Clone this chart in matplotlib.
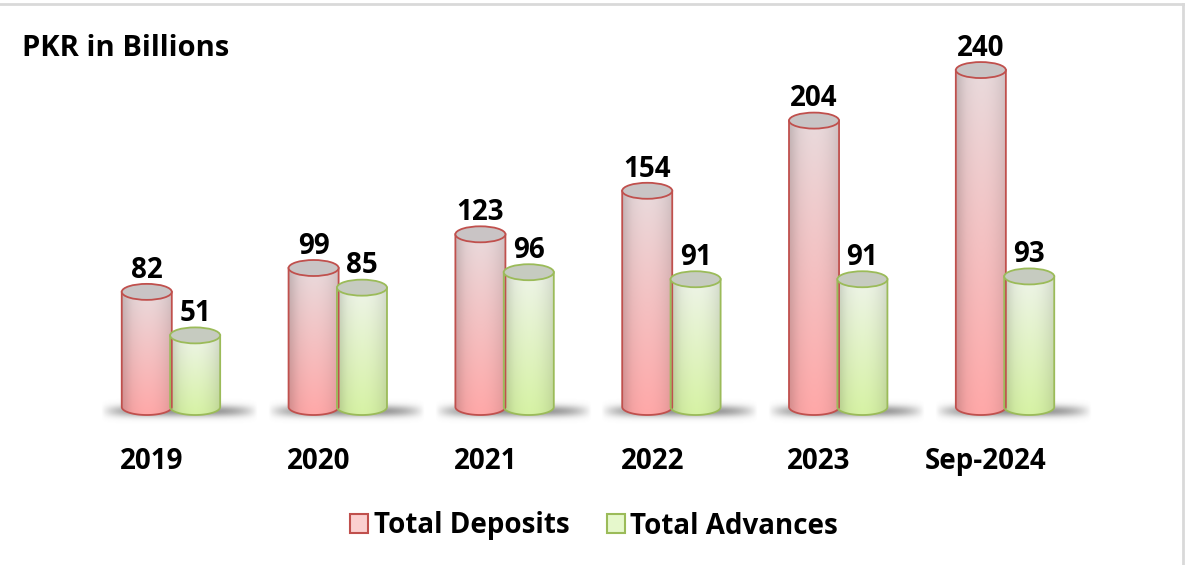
import numpy as np
import matplotlib.pyplot as plt
from matplotlib.patches import Polygon, Ellipse, Patch
from matplotlib.colors import to_rgb

# data
years = ["2019", "2020", "2021", "2022", "2023", "Sep-2024"]
deposits = [82, 99, 123, 154, 204, 240]
advances = [51, 85, 96, 91, 91, 93]

plt.rcParams['font.family'] = ['Open Sans', 'DejaVu Sans']
plt.rcParams['font.weight'] = 'bold'

fig = plt.figure(figsize=(11.88, 5.65), dpi=100)
ax = fig.add_axes([0.04, 0.25, 0.92, 0.71])
ax.set_xlim(-0.740, 5.812)
ax.set_ylim(-11.93, 273.8)
ax.axis('off')

bw = 0.30
off = 0.145
# ellipse half height in data units (~8 px)
ry = 8 / 1.404


def cylinder(cx, h, top_col, bot_col, edge, cap):
    x0, x1 = cx - bw / 2, cx + bw / 2
    th = np.linspace(np.pi, 2 * np.pi, 60)
    arc = np.column_stack([cx + bw / 2 * np.cos(th), ry * np.sin(th)])
    pts = np.vstack([[x0, h], arc, [x1, h]])
    body = Polygon(pts, closed=True, facecolor='none', edgecolor='none',
                   transform=ax.transData)
    ax.add_patch(body)
    # gradient: vertical colour plus horizontal shading
    ny, nx = 100, 60
    t = np.linspace(0, 1, ny)[:, None, None]
    c = np.array(top_col) * (1 - t) + np.array(bot_col) * t
    u = np.linspace(-1, 1, nx)[None, :, None]
    shade = 1 - 0.12 * np.abs(u) ** 2 - 0.05 * (u < -0.6) * (np.abs(u) - 0.6) / 0.4
    img = np.clip(c * shade, 0, 1)
    im = ax.imshow(img, extent=[x0, x1, -ry, h], aspect='auto',
                   interpolation='bilinear', zorder=3)
    im.set_clip_path(body)
    ax.plot(pts[:, 0], pts[:, 1], color=edge, lw=1.3, zorder=4)
    ax.add_patch(Ellipse((cx, h), bw, 2 * ry, facecolor=cap, edgecolor=edge,
                         lw=1.3, zorder=5))


def shadow(cx):
    # soft floor shadow under each pair
    nx, ny = 200, 40
    xs = np.linspace(-1, 1, nx)[None, :]
    ys = np.linspace(-1, 1, ny)[:, None]
    a = np.exp(-(ys / 0.45) ** 2) * np.clip(1 - np.abs(xs) ** 4, 0, 1) * 0.75
    img = np.zeros((ny, nx, 4))
    img[..., :3] = 0.45
    img[..., 3] = a
    ax.imshow(img, extent=[cx - 0.42, cx + 0.52, -12, 6], aspect='auto',
              interpolation='bilinear', zorder=1)


red_top = to_rgb('#e9dadc')
red_bot = to_rgb('#ffa8a8')
grn_top = to_rgb('#eef4e8')
grn_bot = to_rgb('#d6f2a4')

for i in range(len(years)):
    shadow(i)
    cylinder(i - off, deposits[i], red_top, red_bot, '#c0504d', '#c9c4c5')
    cylinder(i + off, advances[i], grn_top, grn_bot, '#9bbb59', '#c6cbc0')
    ax.text(i - off, deposits[i] + 15.5, str(deposits[i]), ha='center',
            va='center', fontsize=20, fontweight='bold', zorder=6)
    ax.text(i + off, advances[i] + 15.5, str(advances[i]), ha='center',
            va='center', fontsize=20, fontweight='bold', zorder=6)
    # category labels sit a little left of the pair centre
    ax.text(i - 0.115, -0.095, years[i], transform=ax.get_xaxis_transform(),
            ha='center', va='center', fontsize=20, fontweight='bold')

fig.text(22 / 1188, 1 - 48 / 565, "PKR in Billions", ha='left', va='center',
         fontsize=21, fontweight='bold')

handles = [Patch(facecolor='#fbd0d0', edgecolor='#c0504d', lw=1.5, label='Total Deposits'),
           Patch(facecolor='#e6f8cc', edgecolor='#9bbb59', lw=1.5, label='Total Advances')]
fig.legend(handles=handles, loc='center', bbox_to_anchor=(0.5, 1 - 526 / 565),
           ncol=2, frameon=False, handlelength=0.65,
           handleheight=0.65, handletextpad=0.2, columnspacing=1.35,
           prop={'weight': 'bold', 'size': 20})

# frame lines (top and right)
fig.add_artist(plt.Line2D([0, 1183 / 1188], [1 - 4 / 565, 1 - 4 / 565],
                          transform=fig.transFigure, color='#d9d9d9', lw=2))
fig.add_artist(plt.Line2D([1183 / 1188, 1183 / 1188], [0, 1 - 4 / 565],
                          transform=fig.transFigure, color='#d9d9d9', lw=2))

fig.savefig('out.png', dpi=100)
